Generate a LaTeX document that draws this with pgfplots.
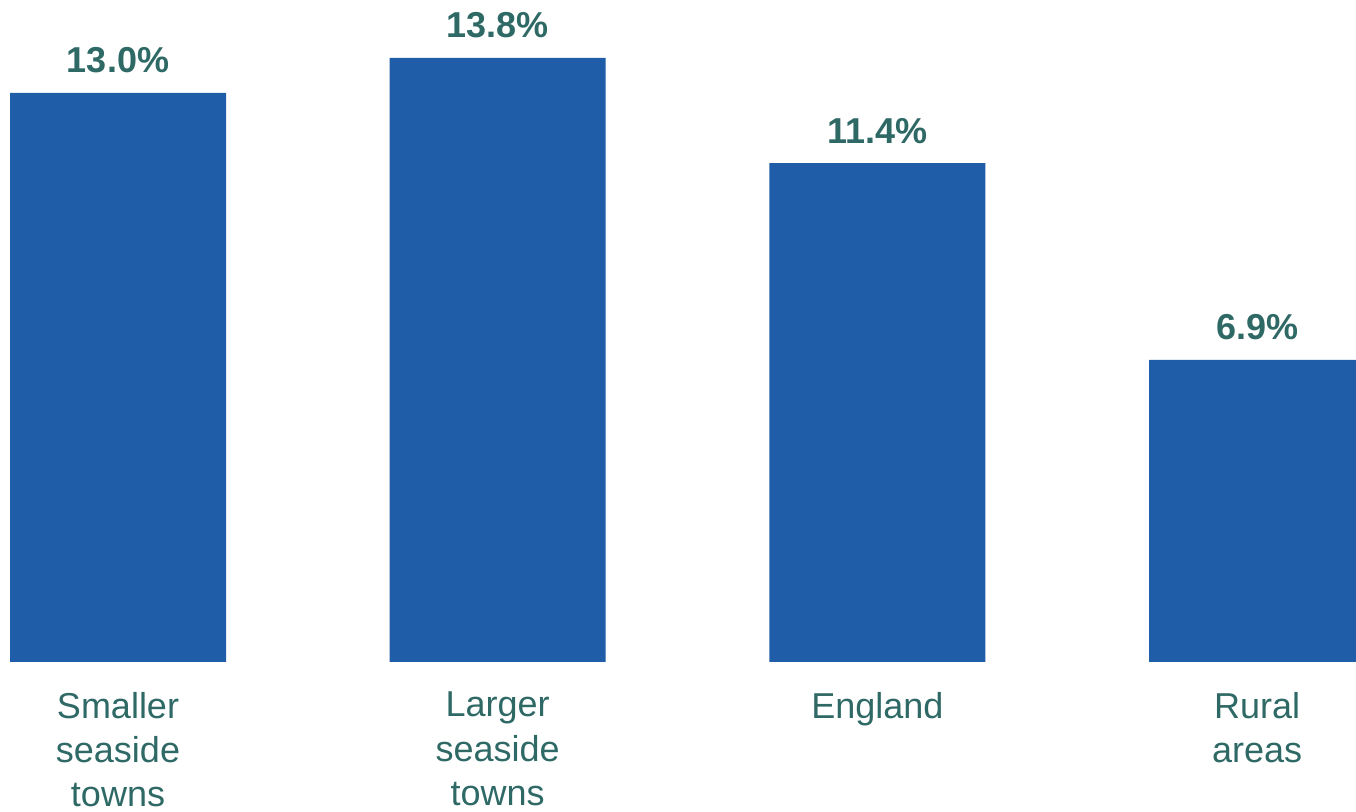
\documentclass[border=0pt]{standalone}
\usepackage{pgfplots}
\pgfplotsset{compat=1.18}
\usepackage{fontspec}
\setmainfont{Liberation Sans}
\definecolor{barblue}{HTML}{1F5DA8}
\definecolor{txt}{HTML}{2F6966}
\begin{document}
\begin{tikzpicture}
\useasboundingbox (0,-75pt) rectangle (678pt,331pt);
\clip (0,-75pt) rectangle (678pt,331pt);
\begin{axis}[
  at={(0,0)}, anchor=south west,
  scale only axis, width=678pt, height=331pt,
  xmin=-0.3108, xmax=3.2605, ymin=0, ymax=15.125,
  axis line style={draw=none}, tick style={draw=none},
  major tick length=0pt,
  ytick=\empty,
  xtick={0,1,2,3},
  xticklabels={Smaller\\seaside\\towns, Larger\\seaside\\towns, England, Rural\\areas},
  xticklabel style={anchor=north, inner sep=0pt, yshift=-14.85pt, align=center, text=txt, font=\fontsize{18}{22.2}\selectfont},
  ybar, bar width=108pt,
  nodes near coords, point meta=explicit symbolic,
  every node near coord/.append style={font=\bfseries\fontsize{18}{22}\selectfont, text=txt, anchor=base, yshift=10pt, inner sep=0pt},
]
\addplot[fill=barblue, draw=none] coordinates {(0,13.0) [13.0\%] (1,13.8) [13.8\%] (2,11.4) [11.4\%] (3,6.9) [6.9\%]};
\end{axis}
\end{tikzpicture}
\end{document}
